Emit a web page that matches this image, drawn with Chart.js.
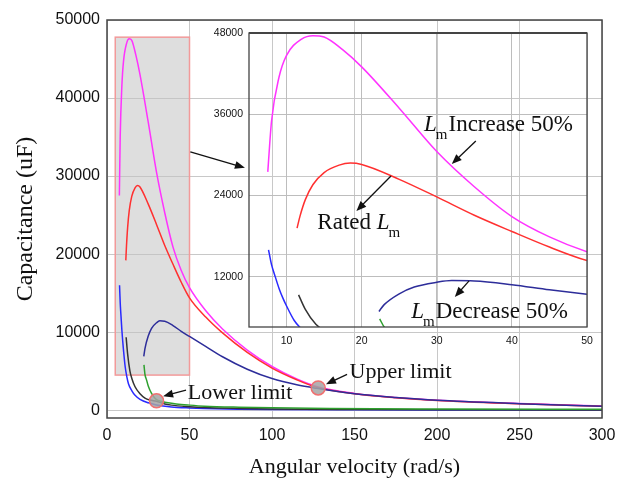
<!DOCTYPE html>
<html>
<head>
<meta charset="utf-8">
<script src="https://cdn.jsdelivr.net/npm/chart.js@4"></script>
<style>
  html, body { margin: 0; padding: 0; background: #fff; }
  #wrap { position: relative; width: 617px; height: 478px; }
  #main { position: absolute; left: 0; top: 0; }
  #inset { position: absolute; left: 205px; top: 25px; }
</style>
</head>
<body>
<div id="wrap">
  <canvas id="main" width="617" height="478"></canvas>
  <canvas id="inset" width="392" height="330"></canvas>
</div>
<script>
// curves (x = angular velocity rad/s, y = capacitance uF)
const incX = [7.5, 8, 9, 10, 12, 13.5, 15, 17.5, 20, 25, 30, 35, 40, 45, 50, 60, 70, 85, 100, 115, 127, 150, 175, 200, 250, 300];
const incY = [27500, 35000, 41500, 44700, 47100, 47600, 47400, 45500, 43000, 36900, 30500, 25300, 20900, 17900, 15700, 12700, 10400, 7700, 5600, 4000, 3050, 2150, 1620, 1280, 850, 530];

const ratedX = [11.4, 11.8, 12.5, 13.5, 15, 17, 18.5, 20, 25, 30, 35, 40, 45, 50, 60, 70, 85, 100, 115, 127, 150, 175, 200, 250, 300];
const ratedY = [19200, 21000, 23400, 25600, 27400, 28500, 28800, 28600, 26400, 23800, 21100, 18700, 16400, 14400, 11900, 9900, 7400, 5400, 3900, 2950, 2100, 1600, 1250, 830, 500];

const decX = [22.3, 23, 25, 27, 30, 32, 35, 40, 45, 50, 60, 70, 85, 100, 115, 127, 150, 175, 200, 250, 300];
const decY = [6900, 7900, 9500, 10500, 11200, 11450, 11400, 10850, 10100, 9450, 8150, 6850, 5250, 4050, 3250, 2800, 2100, 1620, 1260, 840, 510];

const blueX = [7.6, 8, 8.5, 9, 9.5, 10, 11, 12, 13, 15, 17, 20, 25, 30, 39, 50, 59, 80, 100, 150, 200, 300];
const blueY = [16000, 13800, 12000, 10300, 8900, 7700, 5600, 4300, 3400, 2500, 1900, 1400, 950, 680, 420, 280, 210, 130, 90, 50, 35, 20];

const blackX = [11.6, 12.5, 13.9, 15, 17, 20, 23, 26, 30, 35, 39, 50, 59, 80, 100, 150, 200, 300];
const blackY = [9350, 7200, 5000, 4100, 3000, 2100, 1550, 1300, 1150, 800, 650, 450, 340, 220, 150, 90, 60, 30];

const greenX = [22.4, 23, 24, 25, 27, 30, 33, 37, 42, 50, 59, 80, 100, 135, 200, 300];
const greenY = [5800, 4600, 3850, 3100, 2150, 1350, 1150, 950, 800, 650, 520, 380, 300, 210, 150, 110];

// tick labels
const mainXTicks = [0, 50, 100, 150, 200, 250, 300];
const mainYTicks = [0, 10000, 20000, 30000, 40000, 50000];
const insetXTicks = [10, 20, 30, 40, 50];
const insetYTicks = [12000, 24000, 36000, 48000];

// zoom window shown in the inset
const zoomBox = { x0: 5, x1: 50, y0: 4500, y1: 47800 };

const serif = '"Liberation Serif", "Times New Roman", serif';
const sans = '"Liberation Sans", Arial, sans-serif';

function pts(xs, ys) {
  return xs.map((x, i) => ({ x: x, y: ys[i] }));
}

function makeSets() {
  const s = (xs, ys, color) => ({
    data: pts(xs, ys),
    borderColor: color,
    borderWidth: 1.5,
    pointRadius: 0,
    fill: false,
    cubicInterpolationMode: 'monotone'
  });
  return [
    s(greenX, greenY, '#2ea02e'),
    s(blackX, blackY, '#333333'),
    s(blueX, blueY, '#2a2aff'),
    s(decX, decY, '#2d2d9a'),
    s(ratedX, ratedY, '#ff3030'),
    s(incX, incY, '#ff33ff')
  ];
}

function arrow(ctx, x1, y1, x2, y2) {
  const a = Math.atan2(y2 - y1, x2 - x1);
  const len = 10, w = 4;
  ctx.beginPath();
  ctx.moveTo(x1, y1);
  ctx.lineTo(x2 - Math.cos(a) * len * 0.8, y2 - Math.sin(a) * len * 0.8);
  ctx.stroke();
  ctx.beginPath();
  ctx.moveTo(x2, y2);
  ctx.lineTo(x2 - Math.cos(a) * len - Math.sin(a) * w, y2 - Math.sin(a) * len + Math.cos(a) * w);
  ctx.lineTo(x2 - Math.cos(a) * len + Math.sin(a) * w, y2 - Math.sin(a) * len - Math.cos(a) * w);
  ctx.closePath();
  ctx.fill();
}

function limitMark(ctx, px, py) {
  ctx.beginPath();
  ctx.arc(px, py, 7, 0, Math.PI * 2);
  ctx.fillStyle = 'rgba(165,165,165,0.85)';
  ctx.fill();
  ctx.strokeStyle = '#f07070';
  ctx.lineWidth = 1.5;
  ctx.stroke();
}

// text with italic L and subscript m
function lmText(ctx, px, py, pre, post) {
  ctx.textBaseline = 'middle';
  ctx.textAlign = 'left';
  ctx.fillStyle = '#111';
  ctx.font = '23px ' + serif;
  let x = px;
  if (pre) { ctx.fillText(pre, x, py); x += ctx.measureText(pre).width; }
  ctx.font = 'italic 23px ' + serif;
  ctx.fillText('L', x, py);
  x += ctx.measureText('L').width - 1;
  ctx.font = '15px ' + serif;
  ctx.fillText('m', x, py + 10);
  x += ctx.measureText('m').width + 1;
  if (post) { ctx.font = '23px ' + serif; ctx.fillText(post, x, py); }
}

const mainDecor = {
  id: 'mainDecor',
  beforeDatasetsDraw(chart) {
    const { ctx, scales: { x, y } } = chart;
    const l = x.getPixelForValue(zoomBox.x0), r = x.getPixelForValue(zoomBox.x1);
    const t = y.getPixelForValue(zoomBox.y1), b = y.getPixelForValue(zoomBox.y0);
    ctx.save();
    ctx.fillStyle = 'rgba(195,195,195,0.55)';
    ctx.fillRect(l, t, r - l, b - t);
    ctx.strokeStyle = '#f29a9a';
    ctx.lineWidth = 1.5;
    ctx.strokeRect(l, t, r - l, b - t);
    ctx.restore();
  },
  afterDatasetsDraw(chart) {
    const { ctx, chartArea: a, scales: { x, y } } = chart;
    ctx.save();
    ctx.strokeStyle = '#444';
    ctx.lineWidth = 1.5;
    ctx.strokeRect(a.left, a.top, a.right - a.left, a.bottom - a.top);

    limitMark(ctx, x.getPixelForValue(30), y.getPixelForValue(1200));
    limitMark(ctx, x.getPixelForValue(128), y.getPixelForValue(2850));

    ctx.strokeStyle = '#111';
    ctx.fillStyle = '#111';
    ctx.lineWidth = 1.3;
    arrow(ctx, x.getPixelForValue(50.5), y.getPixelForValue(33100), x.getPixelForValue(83.6), y.getPixelForValue(31060));
    arrow(ctx, x.getPixelForValue(47.9), y.getPixelForValue(2560), x.getPixelForValue(34), y.getPixelForValue(1800));
    arrow(ctx, x.getPixelForValue(145.5), y.getPixelForValue(4600), x.getPixelForValue(132.7), y.getPixelForValue(3330));

    ctx.font = '22px ' + serif;
    ctx.textBaseline = 'middle';
    ctx.textAlign = 'left';
    ctx.fillText('Lower limit', x.getPixelForValue(49), y.getPixelForValue(2180));
    ctx.fillText('Upper limit', x.getPixelForValue(147), y.getPixelForValue(4870));
    ctx.restore();
  }
};

const insetDecor = {
  id: 'insetDecor',
  afterDatasetsDraw(chart) {
    const { ctx, chartArea: a, scales: { x, y } } = chart;
    ctx.save();
    ctx.strokeStyle = '#444';
    ctx.lineWidth = 1.3;
    ctx.strokeRect(a.left, a.top, a.right - a.left, a.bottom - a.top);
    ctx.lineWidth = 2;
    ctx.beginPath();
    ctx.moveTo(a.left, a.top);
    ctx.lineTo(a.right, a.top);
    ctx.stroke();

    ctx.strokeStyle = '#111';
    ctx.fillStyle = '#111';
    ctx.lineWidth = 1.3;
    arrow(ctx, x.getPixelForValue(35.2), y.getPixelForValue(32060), x.getPixelForValue(32.0), y.getPixelForValue(28660));
    arrow(ctx, x.getPixelForValue(23.9), y.getPixelForValue(26890), x.getPixelForValue(19.3), y.getPixelForValue(21730));
    arrow(ctx, x.getPixelForValue(34.3), y.getPixelForValue(11400), x.getPixelForValue(32.4), y.getPixelForValue(9030));

    lmText(ctx, x.getPixelForValue(28.3), y.getPixelForValue(34420), '', 'Increase 50%');
    lmText(ctx, x.getPixelForValue(14.1), y.getPixelForValue(19960), 'Rated ', '');
    lmText(ctx, x.getPixelForValue(26.6), y.getPixelForValue(6820), '', 'Decrease 50%');
    ctx.restore();
  }
};

function fixTicks(list) {
  return scale => { scale.ticks = list.map(v => ({ value: v })); };
}

const plain = v => String(v);

new Chart(document.getElementById('main'), {
  type: 'line',
  data: { datasets: makeSets() },
  plugins: [mainDecor],
  options: {
    responsive: false,
    animation: false,
    events: [],
    layout: { padding: { left: 0, top: 20, right: 15, bottom: 0 } },
    plugins: { legend: { display: false }, tooltip: { enabled: false } },
    scales: {
      x: {
        type: 'linear',
        min: 0,
        max: 300,
        afterBuildTicks: fixTicks(mainXTicks),
        afterFit: s => { s.height = 60; s.paddingLeft = 0; s.paddingRight = 0; },
        border: { display: false },
        grid: { color: '#c8c8c8', lineWidth: 1, drawTicks: false },
        ticks: { color: '#111', padding: 8, callback: plain, font: { family: sans, size: 16 } },
        title: { display: true, text: 'Angular velocity (rad/s)', color: '#111', padding: 0,
                 font: { family: serif, size: 22, lineHeight: 1 } }
      },
      y: {
        type: 'linear',
        min: -1000,
        max: 50000,
        afterBuildTicks: fixTicks(mainYTicks),
        afterFit: s => { s.width = 107; s.paddingTop = 0; s.paddingBottom = 0; },
        border: { display: false },
        grid: { color: '#c8c8c8', lineWidth: 1, drawTicks: false },
        ticks: { color: '#111', padding: 7, callback: plain, font: { family: sans, size: 16 } },
        title: { display: true, text: 'Capacitance (uF)', color: '#111', padding: { top: 11, bottom: 0 },
                 font: { family: serif, size: 24 } }
      }
    }
  }
});

new Chart(document.getElementById('inset'), {
  type: 'line',
  data: { datasets: makeSets() },
  plugins: [insetDecor],
  options: {
    responsive: false,
    animation: false,
    events: [],
    layout: { padding: { left: 0, top: 8, right: 10, bottom: 0 } },
    plugins: { legend: { display: false }, tooltip: { enabled: false } },
    scales: {
      x: {
        type: 'linear',
        min: zoomBox.x0,
        max: 50,
        afterBuildTicks: fixTicks(insetXTicks),
        afterFit: s => { s.height = 28; s.paddingLeft = 0; s.paddingRight = 0; },
        border: { display: false },
        grid: { color: '#bdbdbd', lineWidth: 1, drawTicks: false },
        ticks: { color: '#111', padding: 8, callback: plain, font: { family: sans, size: 10.5 } }
      },
      y: {
        type: 'linear',
        min: 4600,
        max: 48000,
        afterBuildTicks: fixTicks(insetYTicks),
        afterFit: s => { s.width = 44; s.paddingTop = 0; s.paddingBottom = 0; },
        border: { display: false },
        grid: { color: '#bdbdbd', lineWidth: 1, drawTicks: false },
        ticks: { color: '#111', padding: 6, callback: plain, font: { family: sans, size: 10.5 } }
      }
    }
  }
});
</script>
</body>
</html>
